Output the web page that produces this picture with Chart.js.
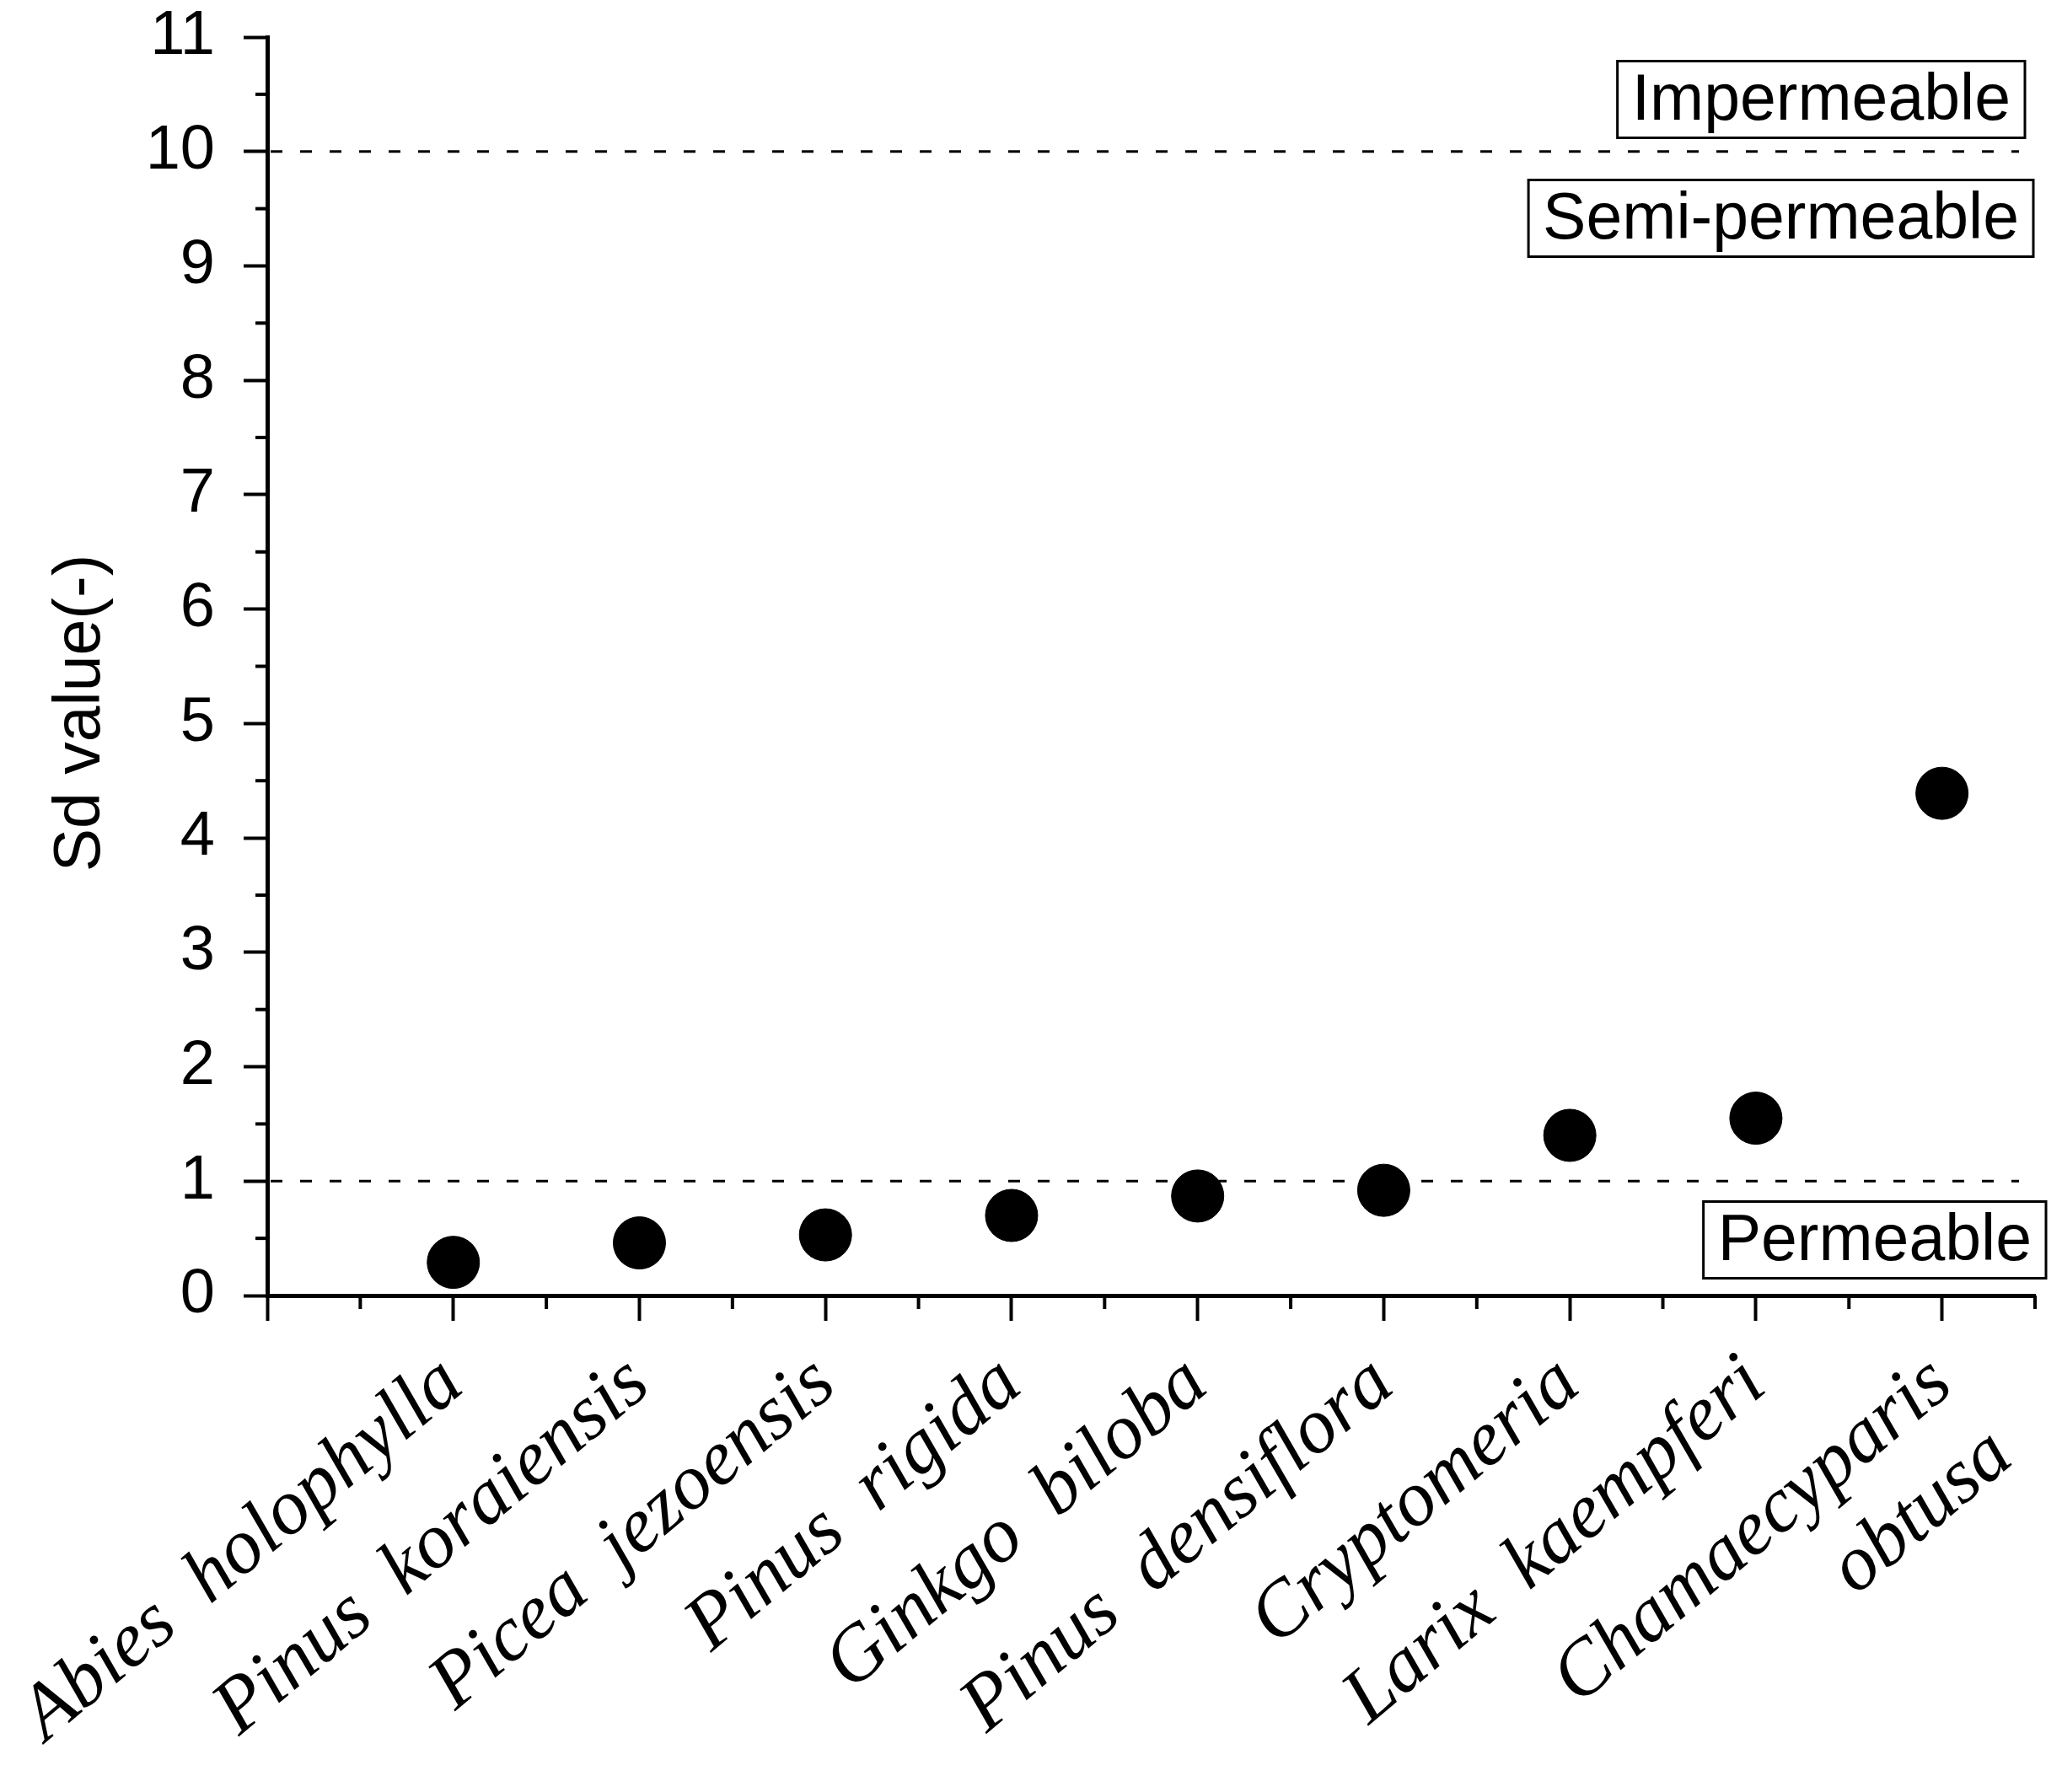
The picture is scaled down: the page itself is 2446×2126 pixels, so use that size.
<!DOCTYPE html>
<html>
<head>
<meta charset="utf-8">
<script src="https://cdn.jsdelivr.net/npm/chart.js@4"></script>
<style>
  body { margin: 0; background: #fff; }
  #wrap { width: 2446px; height: 2126px; }
</style>
</head>
<body>
<div id="wrap"><canvas id="sdChart"></canvas></div>
<script>
// -------------------- DATA --------------------
const species = [
  "Abies  holophylla",
  "Pinus  koraiensis",
  "Picea  jezoensis",
  "Pinus  rigida",
  "Ginkgo  biloba",
  "Pinus  densiflora",
  "Cryptomeria",
  "Larix  kaempferi",
  ["Chamaecyparis", "obtusa"]
];
const sdValues = [0.29, 0.46, 0.53, 0.70, 0.87, 0.92, 1.40, 1.55, 4.39];
const yTicks = [0, 1, 2, 3, 4, 5, 6, 7, 8, 9, 10, 11];
const limitLines = [10, 1];
const zoneLabels = ["Impermeable", "Semi-permeable", "Permeable"];

const SANS = "'Liberation Sans', Arial, sans-serif";

// -------------------- EXTRAS (minor ticks, limit lines, boxes, y title) --------------------
const extrasPlugin = {
  id: "extras",
  afterDraw(chart) {
    const ctx = chart.ctx;
    const x = chart.scales.x;
    const y = chart.scales.y;
    const area = chart.chartArea;

    ctx.save();
    ctx.strokeStyle = "#000";
    ctx.lineWidth = 4;

    // minor ticks
    for (let v = 0.5; v < 11; v += 1) {
      const py = y.getPixelForValue(v);
      ctx.beginPath();
      ctx.moveTo(area.left - 14, py);
      ctx.lineTo(area.left, py);
      ctx.stroke();
    }
    for (let v = 0.5; v <= 9.5; v += 1) {
      const px = x.getPixelForValue(v);
      ctx.beginPath();
      ctx.moveTo(px, area.bottom);
      ctx.lineTo(px, area.bottom + 16);
      ctx.stroke();
    }

    // dashed limit lines
    ctx.lineWidth = 3;
    ctx.setLineDash([14, 21]);
    limitLines.forEach((v) => {
      const py = y.getPixelForValue(v);
      ctx.beginPath();
      ctx.moveTo(area.left + 4, py);
      ctx.lineTo(2395, py);
      ctx.stroke();
    });
    ctx.setLineDash([]);

    // zone labels in boxes
    const boxes = [
      { right: 2402, cy: 118 },
      { right: 2412, cy: 259 },
      { right: 2427, cy: 1471 }
    ];
    ctx.font = `77px ${SANS}`;
    ctx.textBaseline = "middle";
    ctx.textAlign = "left";
    ctx.lineWidth = 3;
    zoneLabels.forEach((txt, i) => {
      const w = ctx.measureText(txt).width + 34;
      const h = 91;
      const bx = boxes[i].right - w;
      const by = boxes[i].cy - h / 2;
      ctx.fillStyle = "#fff";
      ctx.fillRect(bx, by, w, h);
      ctx.strokeRect(bx, by, w, h);
      ctx.fillStyle = "#000";
      ctx.fillText(txt, bx + 17, boxes[i].cy + 3);
    });

    // y axis title
    ctx.translate(97, 846);
    ctx.rotate(-Math.PI / 2);
    ctx.textAlign = "center";
    ctx.fillText("Sd value(-)", 0, 0);
    ctx.restore();
  }
};

// -------------------- CHART --------------------
new Chart(document.getElementById("sdChart"), {
  type: "scatter",
  data: {
    datasets: [{
      data: sdValues.map((v, i) => ({ x: i + 1, y: v })),
      backgroundColor: "#000",
      borderColor: "#000",
      pointRadius: 31,
      pointHoverRadius: 31
    }]
  },
  options: {
    responsive: true,
    maintainAspectRatio: false,
    animation: false,
    layout: { padding: { top: 44, right: 20, left: 0, bottom: 0 } },
    plugins: {
      legend: { display: false },
      tooltip: { enabled: false }
    },
    scales: {
      x: {
        type: "linear",
        min: 0,
        max: 9.5,
        afterBuildTicks: (scale) => {
          const t = [];
          for (let v = 0; v <= 9.5; v += 1) t.push({ value: v });
          scale.ticks = t;
        },
        afterFit: (scale) => {
          scale.height = 2126 - 1537;
          scale.paddingLeft = 0;
          scale.paddingRight = 0;
        },
        border: { color: "#000", width: 5 },
        grid: {
          drawOnChartArea: false,
          tickLength: 30,
          tickWidth: 4,
          tickColor: "#000"
        },
        ticks: {
          autoSkip: false,
          minRotation: 40,
          maxRotation: 40,
          padding: 20,
          color: "#000",
          font: { family: "'Liberation Serif', 'Times New Roman', serif", style: "italic", size: 93 },
          callback: (v) => (v >= 1 && v <= 9 ? species[v - 1] : "")
        }
      },
      y: {
        min: 0,
        max: 11,
        afterBuildTicks: (scale) => {
          scale.ticks = yTicks.map((v) => ({ value: v }));
        },
        afterFit: (scale) => {
          scale.width = 317;
          scale.paddingTop = 0;
          scale.paddingBottom = 0;
        },
        border: { color: "#000", width: 5 },
        grid: {
          drawOnChartArea: false,
          tickLength: 28,
          tickWidth: 4,
          tickColor: "#000"
        },
        ticks: {
          padding: 34,
          color: "#000",
          font: { family: SANS, size: 74 }
        }
      }
    }
  },
  plugins: [extrasPlugin]
});
</script>
</body>
</html>
